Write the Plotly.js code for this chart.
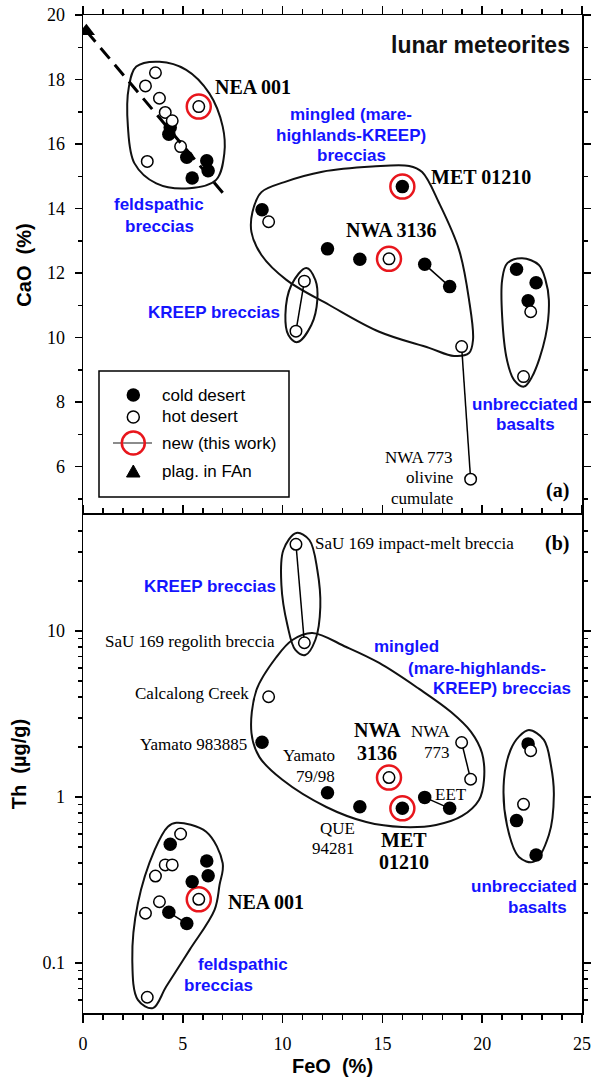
<!DOCTYPE html>
<html><head><meta charset="utf-8">
<script src="https://cdn.plot.ly/plotly-3.0.1.min.js"></script>
<style>html,body{margin:0;padding:0;background:#fff}</style>
</head><body><div id="chart" style="width:596px;height:1080px"></div>
<script>
// ---------------- DATA ----------------
// cold desert meteorites (filled circles)
const coldFeO = [4.37, 4.30, 5.20, 6.20, 6.27, 5.47, 8.97, 12.25, 13.87, 16.00, 17.12, 18.37, 21.72, 22.70, 22.30];
const coldCaO = [16.51, 16.30, 15.59, 15.48, 15.17, 14.95, 13.96, 12.75, 12.43, 14.68, 12.27, 11.58, 12.12, 11.70, 11.14];
const coldTh  = [0.519, 0.202, 0.173, 0.412, 0.336, 0.309, 2.14, 1.06, 0.875, 0.855, 0.995, 0.855, 0.721, 0.448, 2.09];
// hot desert meteorites (open circles)
const hotFeO = [3.63, 3.13, 3.83, 4.12, 4.47, 4.89, 3.22, 5.80, 9.30, 10.67, 11.09, 15.33, 18.97, 19.42, 22.43, 22.07];
const hotCaO = [18.21, 17.80, 17.42, 16.98, 16.72, 15.92, 15.46, 17.16, 13.59, 10.20, 11.75, 12.44, 9.72, 5.61, 10.80, 8.79];
const hotTh  = [0.334, 0.1995, 0.234, 0.390, 0.390, 0.599, 0.0622, 0.242, 4.02, 33.3, 8.5, 1.31, 2.13, 1.28, 1.90, 0.904];
// new (this work)
const newNames = ['NEA 001', 'NWA 3136', 'MET 01210'];
const newFeO = [5.80, 15.33, 16.00];
const newCaO = [17.16, 12.44, 14.68];
const newTh  = [0.242, 1.31, 0.855];
// plagioclase in ferroan anorthosite + trend
const plagFeO = [0.17];
const plagCaO = [19.5];
const trendFeO = [0.17, 7.0];
const trendCaO = [19.5, 14.49];
// tie lines (pairs of indices into the arrays above)
const tiesHot = [[9, 10], [12, 13]];          // SaU 169, NWA 773
const tiesColdTop = [[10, 11]];               // EET
const tiesColdBottom = [[10, 11], [1, 2]];    // EET, feldspathic pair

// group outlines, panel (a): FeO / CaO
const felsOutFeO_a = [2.67, 3.83, 5.17, 6.33, 7.00, 7.08, 6.67, 5.33, 3.67, 2.58, 2.25, 2.30];
const felsOutCaO_a = [18.40, 18.55, 18.30, 17.57, 16.54, 15.71, 14.89, 14.63, 14.78, 15.40, 16.54, 17.78];
const mingOutFeO_a = [8.49, 8.94, 10.09, 11.99, 14.49, 16.34, 16.99, 17.84, 18.84, 19.34, 19.54, 19.34, 18.59, 17.34, 14.84, 12.34, 10.19, 8.94, 8.44];
const mingOutCaO_a = [13.89, 14.51, 14.82, 15.14, 15.30, 15.32, 15.13, 14.17, 12.72, 11.17, 9.93, 9.52, 9.43, 9.68, 10.18, 11.01, 11.79, 12.56, 13.27];
const kreepOutFeO_a = [11.19, 11.64, 11.74, 11.44, 10.74, 10.29, 10.14, 10.44];
const kreepOutCaO_a = [12.16, 11.79, 11.17, 10.39, 9.86, 10.08, 10.70, 11.63];
const basOutFeO_a = [22.00, 22.84, 23.17, 23.34, 23.17, 22.50, 22.09, 21.59, 21.24, 21.00, 21.00, 21.25];
const basOutCaO_a = [12.46, 12.25, 11.79, 11.17, 10.03, 8.79, 8.48, 8.69, 9.31, 10.65, 11.79, 12.30];

// group outlines, panel (b): FeO / Th
const felsOutFeO_b = [4.67, 6.17, 7.00, 6.84, 6.59, 5.34, 4.17, 3.50, 2.75, 2.47, 2.75, 3.59, 4.25];
const felsOutTh_b  = [0.70, 0.618, 0.399, 0.295, 0.209, 0.120, 0.0722, 0.0535, 0.060, 0.1044, 0.229, 0.48, 0.663];
const mingOutFeO_b = [10.49, 11.49, 13.19, 14.84, 16.84, 18.44, 19.44, 19.99, 20.09, 19.84, 18.99, 17.69, 15.99, 14.19, 12.19, 9.99, 8.84, 8.44, 8.69, 9.69];
const mingOutTh_b  = [8.83, 9.73, 8.01, 6.42, 4.48, 3.25, 2.47, 1.84, 1.27, 0.960, 0.769, 0.679, 0.660, 0.707, 0.871, 1.27, 1.74, 2.43, 4.41, 6.97];
const kreepOutFeO_b = [10.69, 11.34, 11.74, 11.89, 11.64, 11.14, 10.64, 10.24, 9.94, 10.04];
const kreepOutTh_b  = [38.96, 35.35, 23.32, 13.96, 8.83, 7.17, 7.69, 10.87, 18.93, 30.77];
const basOutFeO_b = [22.34, 23.09, 23.44, 23.59, 23.34, 22.59, 21.84, 21.24, 21.09, 21.42, 21.84];
const basOutTh_b  = [2.53, 2.21, 1.56, 1.03, 0.591, 0.408, 0.435, 0.679, 1.27, 1.92, 2.31];

// tick values
const xTicks = [0, 5, 10, 15, 20, 25];
const xMinor = [1,2,3,4,6,7,8,9,11,12,13,14,16,17,18,19,21,22,23,24];
const caoTicks = [6, 8, 10, 12, 14, 16, 18, 20];
const caoMinor = [5, 7, 9, 11, 13, 15, 17, 19];
const thTicks = [0.1, 1, 10];
const thTickText = ['0.1', '1', '10'];
const thMinor = [0.06,0.07,0.08,0.09,0.2,0.3,0.4,0.5,0.6,0.7,0.8,0.9,2,3,4,5,6,7,8,9,20,30,40];

// ---------------- STYLE ----------------
const SERIF = 'Liberation Serif, Times New Roman, serif';
const SANS = 'Liberation Sans, Arial, sans-serif';
const BLUE = '#1414ff';
const RED = '#e8161c';
const OUT = '#111';

function closeLoop(a) { return a.concat([a[0]]); }
function outline(xs, ys, xa, ya) {
  return {x: closeLoop(xs), y: closeLoop(ys), xaxis: xa, yaxis: ya, mode: 'lines',
          line: {color: OUT, width: 2, shape: 'spline', smoothing: 1}, hoverinfo: 'skip'};
}
function ties(pairs, xs, ys, xa, ya) {
  return pairs.map(p => ({x: [xs[p[0]], xs[p[1]]], y: [ys[p[0]], ys[p[1]]], xaxis: xa, yaxis: ya,
    mode: 'lines', line: {color: '#000', width: 1.5}, hoverinfo: 'skip'}));
}
function rings(xs, ys, xa, ya) {
  return {x: xs, y: ys, xaxis: xa, yaxis: ya, mode: 'markers', text: newNames,
    marker: {symbol: 'circle-open', size: 24, line: {color: RED, width: 2.5}, color: RED}};
}
function cold(xs, ys, xa, ya) {
  return {x: xs, y: ys, xaxis: xa, yaxis: ya, mode: 'markers', name: 'cold desert',
    marker: {symbol: 'circle', size: 13.5, color: '#000', line: {width: 0}}};
}
function hot(xs, ys, xa, ya) {
  return {x: xs, y: ys, xaxis: xa, yaxis: ya, mode: 'markers', name: 'hot desert',
    marker: {symbol: 'circle', size: 11.5, color: '#fff', line: {color: '#000', width: 1.5}}};
}

const traces = [
  outline(felsOutFeO_a, felsOutCaO_a, 'x', 'y'),
  outline(mingOutFeO_a, mingOutCaO_a, 'x', 'y'),
  outline(kreepOutFeO_a, kreepOutCaO_a, 'x', 'y'),
  outline(basOutFeO_a, basOutCaO_a, 'x', 'y'),
  outline(felsOutFeO_b, felsOutTh_b, 'x2', 'y2'),
  outline(mingOutFeO_b, mingOutTh_b, 'x2', 'y2'),
  outline(kreepOutFeO_b, kreepOutTh_b, 'x2', 'y2'),
  outline(basOutFeO_b, basOutTh_b, 'x2', 'y2'),
  ...ties(tiesHot, hotFeO, hotCaO, 'x', 'y'),
  ...ties(tiesColdTop, coldFeO, coldCaO, 'x', 'y'),
  ...ties(tiesHot, hotFeO, hotTh, 'x2', 'y2'),
  ...ties(tiesColdBottom, coldFeO, coldTh, 'x2', 'y2'),
  rings(newFeO, newCaO, 'x', 'y'),
  rings(newFeO, newTh, 'x2', 'y2'),
  cold(coldFeO, coldCaO, 'x', 'y'),
  hot(hotFeO, hotCaO, 'x', 'y'),
  cold(coldFeO, coldTh, 'x2', 'y2'),
  hot(hotFeO, hotTh, 'x2', 'y2'),
  {x: trendFeO, y: trendCaO, xaxis: 'x', yaxis: 'y', mode: 'lines',
   line: {color: '#000', width: 3, dash: '14px,8px'}, hoverinfo: 'skip'},
  {x: plagFeO, y: plagCaO, xaxis: 'x', yaxis: 'y', mode: 'markers', name: 'plag. in FAn',
   marker: {symbol: 'triangle-up', size: 15, color: '#000'}}
];

// ---------------- LAYOUT ----------------
const X0 = 83, X1 = 582, Y0 = 15, Y1 = 1013;
const W = X1 - X0, H = Y1 - Y0;
function px(x) { return (x - X0) / W; }
function py(y) { return (Y1 - y) / H; }
function lab(text, x, y, o) {
  o = o || {};
  return {text: text, xref: 'paper', yref: 'paper', x: px(x), y: py(y), xanchor: o.anchor || 'center',
    yanchor: 'middle', showarrow: false, align: o.align || 'center', textangle: o.angle || 0,
    font: {family: o.serif ? SERIF : SANS, size: o.size || 17, color: o.color || '#000'}};
}
const B = (t) => '<b>' + t + '</b>';
const blue = {color: BLUE, size: 17};
const bser = {serif: true, size: 20};
const ser = {serif: true, size: 17};

const annotations = [
  // panel (a)
  lab(B('lunar meteorites'), 572, 45, {anchor: 'right', size: 23, color: '#111'}),
  lab(B('NEA 001'), 213, 87, {...bser, anchor: 'left'}),
  lab(B('mingled (mare-'), 351, 115, blue),
  lab(B('highlands-KREEP)'), 351, 135, blue),
  lab(B('breccias'), 351, 155, blue),
  lab(B('MET 01210'), 429, 177, {...bser, anchor: 'left'}),
  lab(B('NWA 3136'), 344, 230, {...bser, anchor: 'left'}),
  lab(B('feldspathic'), 159, 204, blue),
  lab(B('breccias'), 159, 226, blue),
  lab(B('KREEP breccias'), 214, 313, blue),
  lab(B('unbrecciated'), 525, 404, blue),
  lab(B('basalts'), 525, 424, blue),
  lab('NWA 773', 455, 457, {...ser, anchor: 'right'}),
  lab('olivine', 455, 478, {...ser, anchor: 'right'}),
  lab('cumulate', 455, 498, {...ser, anchor: 'right'}),
  lab(B('(a)'), 571, 490, {...bser, anchor: 'right'}),
  // legend
  lab('cold desert', 160, 395, {anchor: 'left', size: 17}),
  lab('hot desert', 160, 417, {anchor: 'left', size: 17}),
  lab('new (this work)', 160, 443, {anchor: 'left', size: 17}),
  lab('plag. in FAn', 160, 471, {anchor: 'left', size: 17}),
  // panel (b)
  lab(B('(b)'), 571, 543, {...bser, anchor: 'right'}),
  lab('SaU 169 impact-melt breccia', 313, 543, {...ser, anchor: 'left'}),
  lab(B('KREEP breccias'), 210, 586, blue),
  lab('SaU 169 regolith breccia', 277, 641, {...ser, anchor: 'right'}),
  lab('Calcalong Creek', 251, 693, {...ser, anchor: 'right'}),
  lab('Yamato 983885', 249, 744, {...ser, anchor: 'right'}),
  lab(B('mingled'), 372, 646, {...blue, anchor: 'left'}),
  lab(B('(mare-highlands-'), 406, 668, {...blue, anchor: 'left'}),
  lab(B('KREEP) breccias'), 431, 688, {...blue, anchor: 'left'}),
  lab(B('NWA'), 377, 730, bser),
  lab(B('3136'), 377, 753, bser),
  lab('NWA', 452, 731, {...ser, anchor: 'right'}),
  lab('773', 452, 752, {...ser, anchor: 'right'}),
  lab('Yamato', 337, 755, {...ser, anchor: 'right'}),
  lab('79/98', 337, 776, {...ser, anchor: 'right'}),
  lab('EET', 433, 794, {...ser, anchor: 'left'}),
  lab('QUE', 337, 828, ser),
  lab('94281', 333, 848, ser),
  lab(B('MET'), 404, 840, bser),
  lab(B('01210'), 404, 862, bser),
  lab(B('NEA 001'), 226, 902, {...bser, anchor: 'left'}),
  lab(B('feldspathic'), 243, 964, blue),
  lab(B('breccias'), 218, 985, blue),
  lab(B('unbrecciated'), 524, 886, blue),
  lab(B('basalts'), 537, 907, blue)
];

// legend glyphs (paper coordinates)
function circ(cx, cy, d, fill, lc, lw) {
  return {type: 'circle', xref: 'paper', yref: 'paper', x0: px(cx - d / 2), x1: px(cx + d / 2),
    y0: py(cy + d / 2), y1: py(cy - d / 2), fillcolor: fill, line: {color: lc, width: lw}};
}
const shapes = [
  {type: 'rect', xref: 'paper', yref: 'paper', x0: px(99), x1: px(289), y0: py(497), y1: py(371),
   line: {color: '#000', width: 1.5}, fillcolor: 'rgba(0,0,0,0)'},
  circ(133.3, 395, 13.5, '#000', '#000', 0),
  circ(133.3, 417, 12, '#fff', '#000', 1.5),
  {type: 'line', xref: 'paper', yref: 'paper', x0: px(113), x1: px(152), y0: py(443), y1: py(443),
   line: {color: '#666', width: 1.5}},
  circ(133.3, 443, 23, 'rgba(0,0,0,0)', RED, 2.5),
  {type: 'path', xref: 'paper', yref: 'paper', fillcolor: '#000', line: {color: '#000', width: 1},
   path: 'M' + px(126.5) + ',' + py(477) + ' L' + px(140) + ',' + py(477) + ' L' + px(133.3) + ',' + py(465) + ' Z'}
];

const axBase = {showline: true, linecolor: '#000', linewidth: 1.5, ticks: 'outside', tickcolor: '#000',
  tickwidth: 1.5, showgrid: false, zeroline: false, tickfont: {family: SERIF, size: 18, color: '#000'}};
const minorStyle = (vals, len) => ({tickvals: vals, ticks: 'outside', ticklen: len, tickcolor: '#000', tickwidth: 1.5, showgrid: false});

const layout = {
  width: 596, height: 1080,
  margin: {l: X0, r: 596 - X1, t: Y0, b: 1080 - Y1},
  paper_bgcolor: '#fff', plot_bgcolor: '#fff', showlegend: false,
  xaxis: {...axBase, anchor: 'y', side: 'top', range: [0, 25], tickmode: 'array', tickvals: xTicks,
    ticklen: 8, showticklabels: false, minor: minorStyle(xMinor, 5)},
  xaxis2: {...axBase, anchor: 'y2', mirror: 'ticks', range: [0, 25], tickmode: 'array', tickvals: xTicks,
    ticklen: 8, ticklabelstandoff: 6, minor: minorStyle(xMinor, 5),
    title: {text: '<b>FeO  (%)</b>', font: {family: SANS, size: 20, color: '#000'}, standoff: 6}},
  yaxis: {...axBase, anchor: 'x', domain: [0.499, 1], range: [4.5, 20], mirror: 'ticks', tickmode: 'array',
    tickvals: caoTicks, ticklen: 7, ticklabelstandoff: 6, minor: minorStyle(caoMinor, 4),
    title: {text: '<b>CaO  (%)</b>', font: {family: SANS, size: 20, color: '#000'}, standoff: 10}},
  yaxis2: {...axBase, anchor: 'x2', type: 'log', domain: [0, 0.499], range: [Math.log10(0.05), Math.log10(50)],
    mirror: 'ticks', tickmode: 'array', tickvals: thTicks, ticktext: thTickText, ticklen: 7,
    ticklabelstandoff: 6, minor: minorStyle(thMinor, 4),
    title: {text: '<b>Th  (µg/g)</b>', font: {family: SANS, size: 20, color: '#000'}, standoff: 10}},
  annotations: annotations,
  shapes: shapes
};

Plotly.newPlot('chart', traces, layout, {displayModeBar: false, staticPlot: true});
</script></body></html>
